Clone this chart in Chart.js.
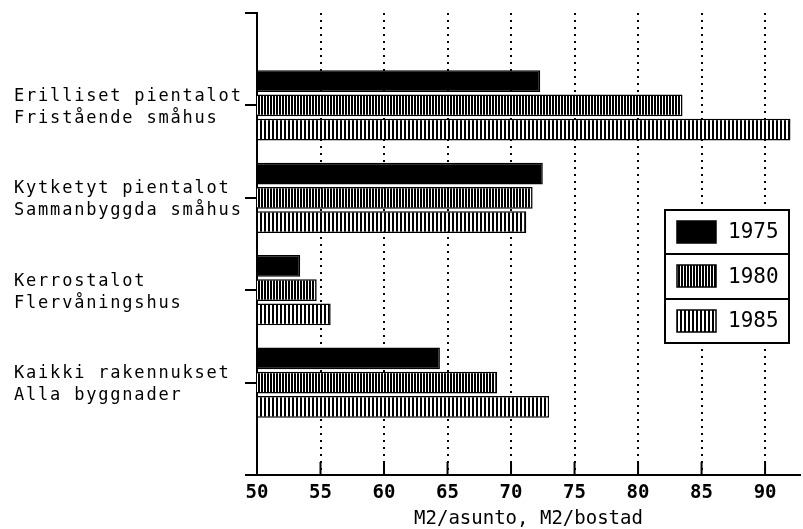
<!DOCTYPE html>
<html>
<head>
<meta charset="utf-8">
<script src="https://cdn.jsdelivr.net/npm/chart.js@4.4.0/dist/chart.umd.min.js"></script>
<style>
    html, body { margin: 0; padding: 0; background: #fff; }
    canvas { display: block; }
</style>
</head>
<body>
<canvas id="areaChart" width="803" height="529"></canvas>
<script>
// Floor area per dwelling by building type (m2)
const categories = [
    ['Erilliset pientalot', 'Fristående småhus'],
    ['Kytketyt pientalot', 'Sammanbyggda småhus'],
    ['Kerrostalot', 'Flervåningshus'],
    ['Kaikki rakennukset', 'Alla byggnader']
];
const years = ['1975', '1980', '1985'];
const area1975 = [72.3, 72.5, 53.4, 64.4];
const area1980 = [83.5, 71.7, 54.7, 68.9];
const area1985 = [92.0, 71.2, 55.8, 73.0];
const xTicks = [50, 55, 60, 65, 70, 75, 80, 85, 90];
const xMin = 50;
const xMax = 92.75;

Chart.defaults.font.family = '"DejaVu Sans Mono", "Liberation Mono", monospace';
Chart.defaults.color = '#000';

const canvas = document.getElementById('areaChart');

// vertical stripe fills like the plotter hatching
function stripes(period, black) {
    const c = document.createElement('canvas');
    c.width = period;
    c.height = 4;
    const g = c.getContext('2d');
    g.fillStyle = '#fff';
    g.fillRect(0, 0, period, 4);
    g.fillStyle = '#000';
    g.fillRect(0, 0, black, 4);
    return canvas.getContext('2d').createPattern(c, 'repeat');
}

// empty slots above and below so the axis has room like the original
const pad = arr => [null, ...arr, null];

// legend with one framed box per year
const boxLegend = {
    id: 'boxLegend',
    afterDraw(chart) {
        const ctx = chart.ctx;
        const x = 665, w = 124, rows = [44, 45, 44];
        let top = 210;
        ctx.save();
        chart.data.datasets.forEach((ds, i) => {
            const h = rows[i];
            ctx.fillStyle = '#fff';
            ctx.fillRect(x, top, w, h);
            ctx.lineWidth = 2;
            ctx.strokeStyle = '#000';
            ctx.strokeRect(x, top, w, h);
            ctx.fillStyle = ds.backgroundColor;
            ctx.fillRect(x + 12, top + 11, 39, 22);
            ctx.lineWidth = 1.5;
            ctx.strokeRect(x + 12, top + 11, 39, 22);
            ctx.fillStyle = '#000';
            ctx.font = '21px "DejaVu Sans Mono"';
            ctx.textBaseline = 'middle';
            ctx.textAlign = 'left';
            ctx.fillText(ds.label, x + 63, top + h / 2 + 1);
            top += h;
        });
        ctx.restore();
    }
};

// x ticks point up into the plot
const innerTicks = {
    id: 'innerTicks',
    afterDatasetsDraw(chart) {
        const { ctx, chartArea } = chart;
        const sx = chart.scales.x;
        ctx.save();
        ctx.strokeStyle = '#000';
        ctx.lineWidth = 2;
        sx.ticks.forEach(t => {
            const px = sx.getPixelForValue(t.value);
            ctx.beginPath();
            ctx.moveTo(px, chartArea.bottom);
            ctx.lineTo(px, chartArea.bottom - 13);
            ctx.stroke();
        });
        ctx.restore();
    }
};

// wider letter spacing on the category names
const spacedLabels = {
    id: 'spacedLabels',
    beforeDraw(chart) {
        const sy = chart.scales.y;
        if (sy._spaced) return;
        const orig = sy.drawLabels;
        sy.drawLabels = function (area) {
            this.ctx.save();
            this.ctx.letterSpacing = '1.8px';
            orig.call(this, area);
            this.ctx.restore();
        };
        sy._spaced = true;
    }
};

new Chart(canvas, {
    type: 'bar',
    data: {
        labels: ['', ...categories, ''],
        datasets: [
            {
                label: years[0],
                data: pad(area1975),
                backgroundColor: '#000',
                borderColor: '#000',
                borderWidth: 1.5
            },
            {
                label: years[1],
                data: pad(area1980),
                backgroundColor: stripes(3, 2),
                borderColor: '#000',
                borderWidth: 1.5
            },
            {
                label: years[2],
                data: pad(area1985),
                backgroundColor: stripes(4, 2),
                borderColor: '#000',
                borderWidth: 1.5
            }
        ]
    },
    options: {
        indexAxis: 'y',
        responsive: false,
        animation: false,
        categoryPercentage: 0.787,
        barPercentage: 0.9,
        layout: {
            padding: { left: 14, top: 13, right: 3, bottom: 0 }
        },
        plugins: {
            legend: { display: false },
            tooltip: { enabled: false }
        },
        scales: {
            x: {
                type: 'linear',
                position: 'bottom',
                min: xMin,
                max: xMax,
                afterBuildTicks: scale => {
                    scale.ticks = xTicks.map(v => ({ value: v }));
                },
                afterFit: scale => {
                    scale.height = 54;
                    scale.paddingLeft = 0;
                    scale.paddingRight = 0;
                },
                grid: {
                    color: '#000',
                    lineWidth: 2,
                    drawTicks: false
                },
                border: {
                    color: '#000',
                    width: 2,
                    dash: [2, 5]
                },
                ticks: {
                    color: '#000',
                    padding: 9,
                    font: { size: 19, weight: 'bold', lineHeight: 1 }
                },
                title: {
                    display: true,
                    text: 'M2/asunto, M2/bostad',
                    color: '#000',
                    font: { size: 19, lineHeight: 1 },
                    padding: { top: 8, bottom: 0 }
                }
            },
            y: {
                type: 'category',
                offset: false,
                afterFit: scale => {
                    scale.width = 243;
                    scale.paddingTop = 0;
                    scale.paddingBottom = 0;
                },
                grid: {
                    offset: false,
                    drawOnChartArea: false,
                    drawTicks: true,
                    tickLength: 12,
                    color: '#000',
                    lineWidth: 2
                },
                border: {
                    color: '#000',
                    width: 2
                },
                ticks: {
                    crossAlign: 'far',
                    autoSkip: false,
                    padding: 5,
                    labelOffset: 2,
                    color: '#000',
                    font: { size: 17, lineHeight: 1.3 }
                }
            }
        }
    },
    plugins: [spacedLabels, innerTicks, boxLegend]
});
</script>
</body>
</html>
